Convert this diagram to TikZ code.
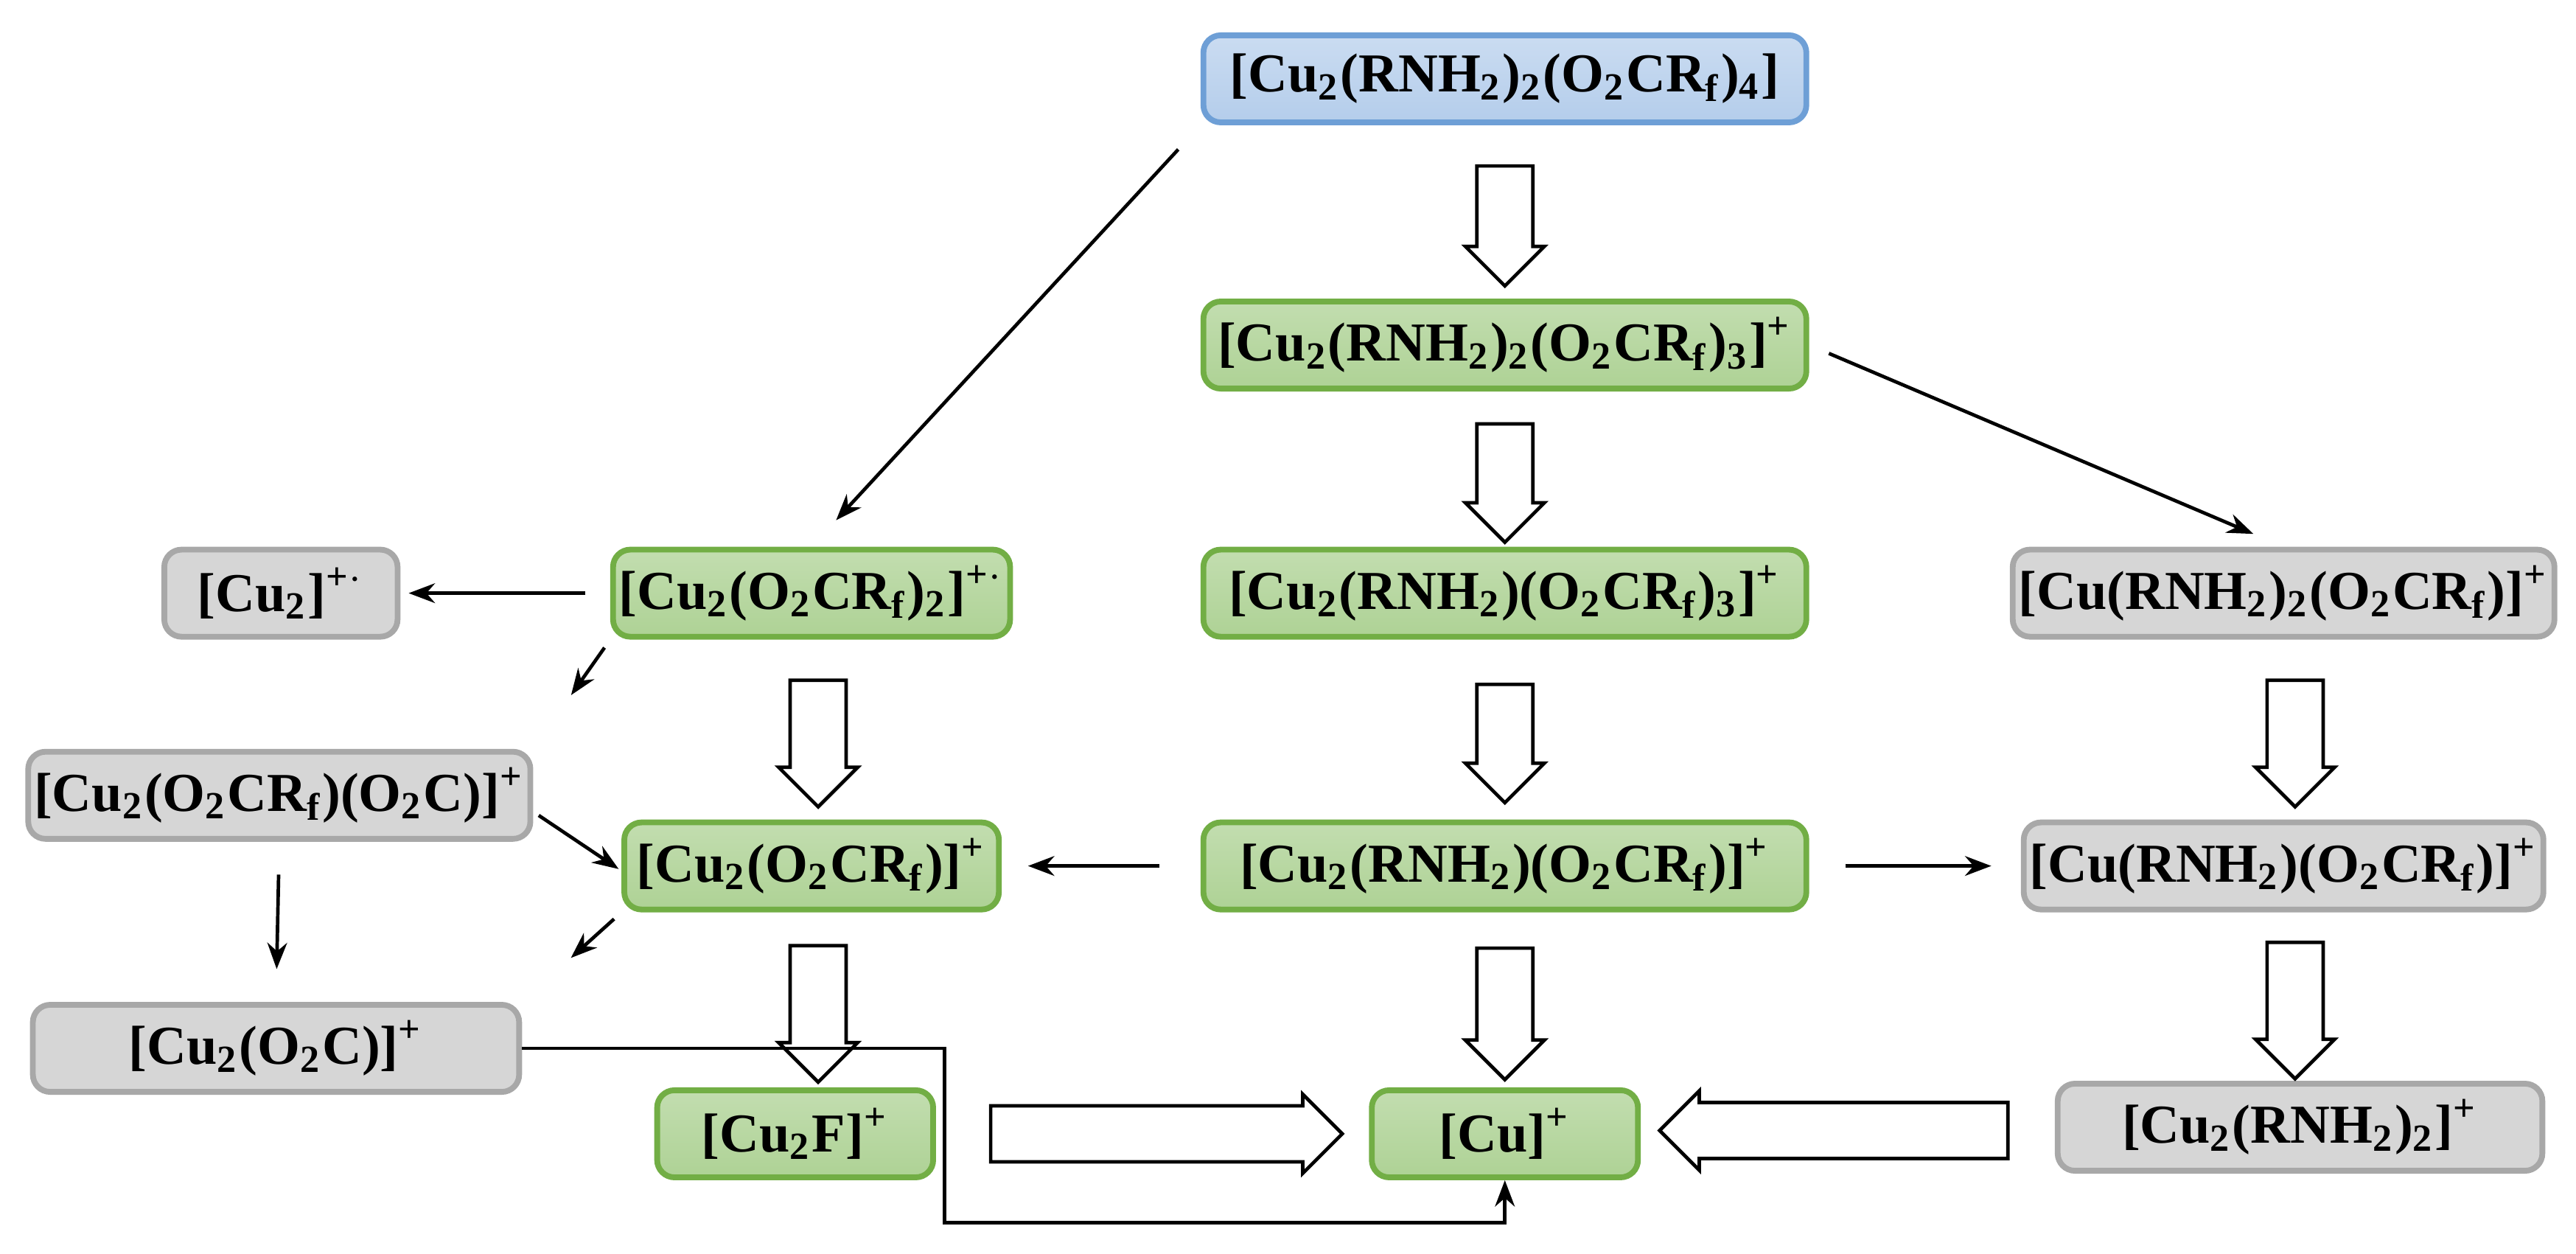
\documentclass[tikz,border=0pt]{standalone}
\usepackage{fontspec}
\setmainfont{Liberation Serif}
\usetikzlibrary{positioning,shapes.arrows,arrows.meta,calc}
\newcommand{\sbs}[1]{\textsubscript{#1}}
\newcommand{\sps}[1]{\textsuperscript{#1}}
\definecolor{bluefill}{HTML}{B4CDEB}
\definecolor{blueline}{HTML}{6E9FD6}
\definecolor{greenfill}{HTML}{AED295}
\definecolor{greenline}{HTML}{72AE45}
\definecolor{grayfill}{HTML}{D6D6D6}
\definecolor{grayline}{HTML}{A8A8A8}
\tikzset{
  box/.style={rounded corners=3pt, line width=1pt, minimum height=0.53cm,
    font=\fontsize{9.5}{11}\selectfont\bfseries, inner sep=1pt},
  bluebox/.style={box, draw=blueline, top color=bluefill!70!white, bottom color=bluefill},
  greenbox/.style={box, draw=greenline, top color=greenfill!75!white, bottom color=greenfill},
  graybox/.style={box, draw=grayline, fill=grayfill},
  thinarrow/.style={-{Stealth[length=1.6mm,width=1.2mm]}, line width=0.6pt},
  blk/.style={single arrow, draw, fill=white, line width=0.6pt, inner sep=0.16cm,
    single arrow head extend=0.07cm, single arrow head indent=0pt, minimum height=#1},
  blkdown/.style={blk=#1, shape border rotate=270},
  blkright/.style={blk=#1, shape border rotate=0},
  blkleft/.style={blk=#1, shape border rotate=180}
}
\begin{document}
\begin{tikzpicture}
  \useasboundingbox (0,0) rectangle (15.68,7.63);

  % centre column
  \node[bluebox, minimum width=3.67cm] (top) at (9.16,7.15) {[Cu\sbs{2}(RNH\sbs{2})\sbs{2}(O\sbs{2}CR\sbs{f})\sbs{4}]};
  \node[greenbox, minimum width=3.67cm] (n1) at (9.16,5.53) {[Cu\sbs{2}(RNH\sbs{2})\sbs{2}(O\sbs{2}CR\sbs{f})\sbs{3}]\sps{+}};
  \node[greenbox, minimum width=3.67cm] (n2) at (9.16,4.02) {[Cu\sbs{2}(RNH\sbs{2})(O\sbs{2}CR\sbs{f})\sbs{3}]\sps{+}};
  \node[greenbox, minimum width=3.67cm] (n3) at (9.16,2.36) {[Cu\sbs{2}(RNH\sbs{2})(O\sbs{2}CR\sbs{f})]\sps{+}};
  \node[greenbox, minimum width=1.62cm] (cu) at (9.16,0.73) {[Cu]\sps{+}};

  % left columns
  \node[greenbox, minimum width=2.28cm] (l1) at (4.94,4.02) {[Cu\sbs{2}(O\sbs{2}CR\sbs{f})\sbs{2}]\sps{+$\cdot$}};
  \node[greenbox, minimum width=2.28cm] (l2) at (4.94,2.36) {[Cu\sbs{2}(O\sbs{2}CR\sbs{f})]\sps{+}};
  \node[greenbox, minimum width=1.68cm] (cuf) at (4.84,0.73) {[Cu\sbs{2}F]\sps{+}};
  \node[graybox, minimum width=1.42cm] (cu2) at (1.71,4.02) {[Cu\sbs{2}]\sps{+$\cdot$}};
  \node[graybox, minimum width=2.96cm] (ga) at (1.70,2.79) {[Cu\sbs{2}(O\sbs{2}CR\sbs{f})(O\sbs{2}C)]\sps{+}};
  \node[graybox, minimum width=2.96cm] (gb) at (1.68,1.25) {[Cu\sbs{2}(O\sbs{2}C)]\sps{+}};

  % right column
  \node[graybox, minimum width=3.00cm] (r1) at (13.90,4.02) {[Cu(RNH\sbs{2})\sbs{2}(O\sbs{2}CR\sbs{f})]\sps{+}};
  \node[graybox, minimum width=3.00cm] (r2) at (13.90,2.36) {[Cu(RNH\sbs{2})(O\sbs{2}CR\sbs{f})]\sps{+}};
  \node[graybox, minimum width=2.95cm] (r3) at (14.00,0.77) {[Cu\sbs{2}(RNH\sbs{2})\sbs{2}]\sps{+}};

  % block arrows
  \path (top.south) -- (n1.north) node[midway, blkdown=0.73cm] {};
  \path (n1.south) -- (n2.north) node[midway, blkdown=0.72cm] {};
  \path (n2.south) -- (n3.north) node[midway, blkdown=0.72cm] {};
  \path (n3.south) -- (cu.north) node[midway, blkdown=0.80cm] {};
  \path ([xshift=0.04cm]l1.south) -- ([xshift=0.04cm]l2.north) node[midway, blkdown=0.77cm] {};
  \path ([xshift=0.04cm]l2.south) -- ([xshift=0.14cm]cuf.north) node[midway, blkdown=0.83cm] {};
  \path ([xshift=0.07cm]r1.south) -- ([xshift=0.07cm]r2.north) node[midway, blkdown=0.77cm] {};
  \path ([xshift=0.07cm]r2.south) -- ([xshift=-0.03cm]r3.north) node[midway, blkdown=0.83cm] {};
  \path (cuf.east) -- (cu.west) node[midway, blkright=2.14cm] {};
  \path (r3.west) -- (cu.east) node[midway, blkleft=2.12cm] {};

  % thin arrows
  \draw[thinarrow, shorten <=2mm, shorten >=2.2mm] (top.south west) -- (l1.north);
  \draw[thinarrow, shorten <=1.3mm, shorten >=2mm] (n1.east) -- (r1.north);
  \draw[thinarrow, shorten <=1.5mm, shorten >=0.5mm] (l1.west) -- (cu2.east);
  \draw[thinarrow, shorten <=0.6mm, shorten >=4mm] (l1.south west) -- (ga.north east);
  \draw[thinarrow, shorten <=0.4mm, shorten >=0.2mm] ([yshift=-0.1cm]ga.east) -- ([yshift=-0.03cm]l2.west);
  \draw[thinarrow, shorten <=2mm, shorten >=2mm] (ga.south) -- (gb.north);
  \draw[thinarrow, shorten <=0.6mm, shorten >=4mm] (l2.south west) -- (gb.north east);
  \draw[thinarrow, shorten <=2.5mm, shorten >=1.6mm] (n3.west) -- (l2.east);
  \draw[thinarrow, shorten <=2.2mm, shorten >=1.8mm] (n3.east) -- (r2.west);
  \coordinate (bend) at (5.75,0.19);
  \draw[thinarrow] (gb.east) -| (bend) -| (cu.south);
\end{tikzpicture}
\end{document}
